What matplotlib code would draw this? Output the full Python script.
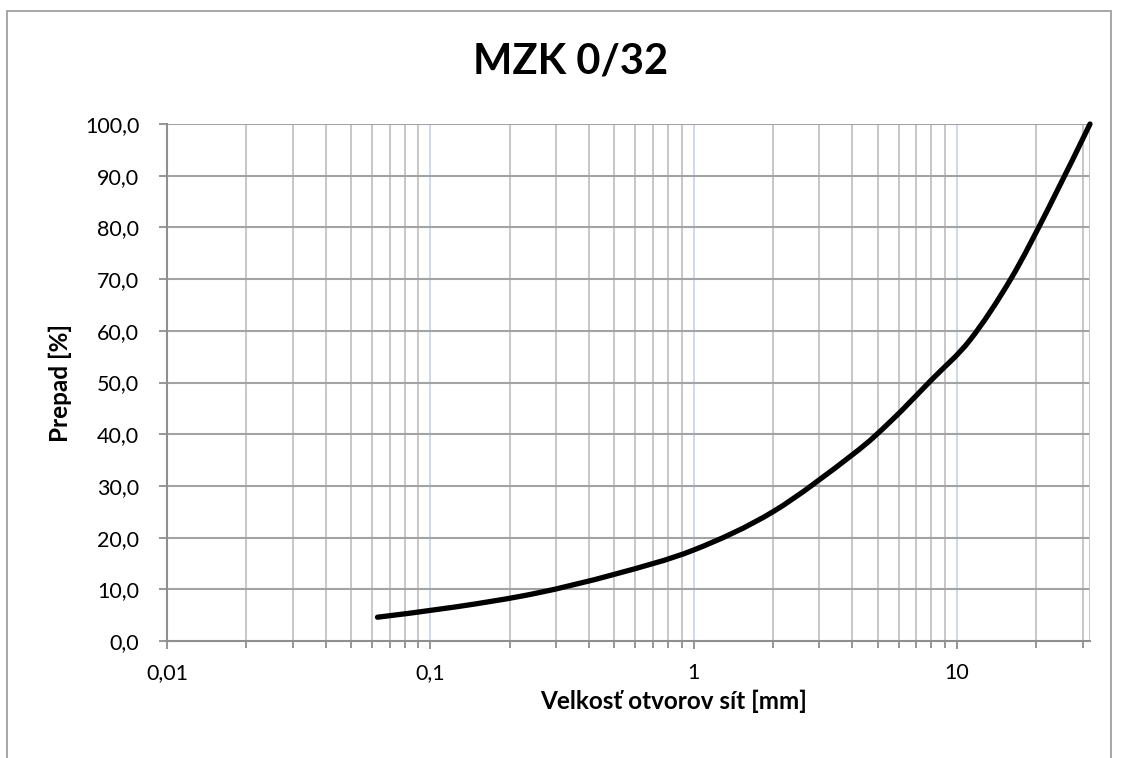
import numpy as np
import matplotlib
matplotlib.use('Agg')
import matplotlib.pyplot as plt
from matplotlib.path import Path
from matplotlib.patches import PathPatch, Rectangle
from matplotlib.ticker import FixedLocator, FuncFormatter, NullFormatter

# sitovy rozbor MZK 0/32
sita = [0.063, 0.125, 0.25, 0.5, 1, 2, 4, 5.6, 8, 11.2, 16, 22.4, 32]
prepad = [4.6, 6.6, 9.2, 12.9, 17.6, 25.0, 36.0, 42.5, 50.5, 58.2, 70.0, 84.0, 100.0]

x_major = [0.01, 0.1, 1, 10]
x_labels = ['0,01', '0,1', '1', '10']
y_ticks = list(range(0, 101, 10))

plt.rcParams['font.family'] = ['Lato', 'DejaVu Sans']

fig = plt.figure(figsize=(11.23, 7.58), dpi=100)
ax = fig.add_axes([167 / 1123, 1 - 641 / 758, (1090 - 167) / 1123, (641 - 124) / 758])

ax.set_xscale('log')
ax.set_xlim(0.01, 32)
ax.set_ylim(0, 100)

# mriežka
minor = [m * d for d in [0.01, 0.1, 1, 10] for m in range(2, 10) if m * d < 32]
ax.xaxis.set_major_locator(FixedLocator(x_major))
ax.xaxis.set_minor_locator(FixedLocator(minor))
ax.xaxis.set_major_formatter(FuncFormatter(lambda v, p: x_labels[x_major.index(v)] if v in x_major else ''))
ax.xaxis.set_minor_formatter(NullFormatter())
ax.set_yticks(y_ticks)
ax.yaxis.set_major_formatter(FuncFormatter(lambda v, p: ('%.1f' % v).replace('.', ',')))

for v in minor:
    ax.axvline(v, color='#c3c3c3', lw=1.3, zorder=1)
for v in x_major[1:]:
    ax.axvline(v, color='#c9d6ee', lw=1.3, zorder=1)
for v in y_ticks[1:]:
    ax.axhline(v, color='#a3a3a3', lw=1.5, zorder=1)

for s in ['top', 'right']:
    ax.spines[s].set_visible(False)
for s in ['left', 'bottom']:
    ax.spines[s].set_color('#8f8f8f')
    ax.spines[s].set_linewidth(1.5)
ax.axvline(32, color='#c3c3c3', lw=1.3, zorder=1)

ax.tick_params(axis='both', which='both', direction='out', color='#8f8f8f', width=1.3,
               labelsize=15.5, colors='#8f8f8f', labelcolor='black')
ax.tick_params(axis='x', which='major', length=6, pad=10)
ax.tick_params(axis='x', which='minor', length=5)
ax.tick_params(axis='y', length=6, pad=14)

# vyhladena krivka (bezier cez body)
pts = np.column_stack([np.log10(sita), prepad])
verts = [pts[0]]
codes = [Path.MOVETO]
n = len(pts)
for i in range(n - 1):
    p0 = pts[max(i - 1, 0)]
    p1 = pts[i]
    p2 = pts[i + 1]
    p3 = pts[min(i + 2, n - 1)]
    verts += [p1 + (p2 - p0) / 6, p2 - (p3 - p1) / 6, p2]
    codes += [Path.CURVE4] * 3
verts = np.array(verts)
verts[:, 0] = 10 ** verts[:, 0]
ax.add_patch(PathPatch(Path(verts, codes), fill=False, lw=3.8, edgecolor='black',
                       capstyle='round', joinstyle='round', zorder=5, clip_on=False))

fig.text(571 / 1123, 1 - 61 / 758, 'MZK 0/32', ha='center', va='center',
         fontsize=30, fontweight='bold')
fig.text(674 / 1123, 1 - 701 / 758, 'Velkosť otvorov sít [mm]', ha='center', va='center',
         fontsize=17.5, fontweight='bold')
fig.text(60 / 1123, 1 - 383 / 758, 'Prepad [%]', ha='center', va='center',
         rotation=90, fontsize=17.5, fontweight='bold')

# ramik grafu
fig.patches.append(Rectangle((7 / 1123, -0.1), (1111 - 7) / 1123, 1.1 - 11 / 758,
                             transform=fig.transFigure, fill=False, edgecolor='#a0a0a0', lw=1.3))

plt.savefig('out.png', dpi=100)
